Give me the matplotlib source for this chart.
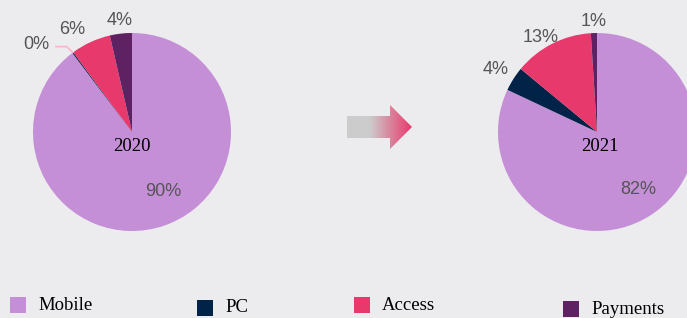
import matplotlib.pyplot as plt
import numpy as np
from matplotlib.patches import Polygon
from matplotlib.colors import LinearSegmentedColormap

categories = ['Mobile', 'PC', 'Access', 'Payments']
years = ['2020', '2021']
shares_2020 = [89.7, 0.2, 6.5, 3.6]
shares_2021 = [82, 4, 13, 1]

colors = ['#C48FD6', '#002347', '#E8396C', '#5E2262']
bg = '#ECEBEE'

W, H = 687, 318
fig = plt.figure(figsize=(W / 100, H / 100), dpi=100, facecolor=bg)


def px_axes(cx, cy, size):
    # axes centred on pixel (cx, cy) measured from top-left
    return fig.add_axes([(cx - size / 2) / W, (H - cy - size / 2) / H, size / W, size / H])


def draw_pie(cx, cy, values, year, label_pos, year_dx=0.0):
    ax = px_axes(cx, cy, 240)
    ax.axis('off')
    wedges, _ = ax.pie(values, colors=colors, startangle=90, counterclock=False,
                       radius=0.99, wedgeprops=dict(linewidth=0))
    ax.set_xlim(-1.2, 1.2)
    ax.set_ylim(-1.2, 1.2)
    ax.set_aspect('equal')
    ax.text(year_dx, -0.145, year, ha='center', va='center', family='Liberation Serif',
            fontsize=13.5, color='black')
    for w, v, (dist, nudge) in zip(wedges, values, label_pos):
        ang = np.deg2rad((w.theta1 + w.theta2) / 2 + nudge)
        x, y = dist * np.cos(ang), dist * np.sin(ang) - 0.02
        ax.text(x, y, f'{v:.0f}%', ha='center', va='center', family='Liberation Sans',
                fontsize=13, color='#555555')
    return ax, wedges


ax1, w1 = draw_pie(132, 132, shares_2020, years[0],
                   [(0.65, 10), (1.31, 10), (1.2, 5), (1.14, 0)])
# leader line for the tiny PC slice
a = np.deg2rad((w1[1].theta1 + w1[1].theta2) / 2)
ex, ey = 0.99 * np.cos(a), 0.99 * np.sin(a)
ax1.plot([ex, ex - 0.06, -0.76], [ey, ey + 0.06, ey + 0.06], color='#F6B8CA', lw=1.2)

draw_pie(597, 132, shares_2021, years[1],
         [(0.69, 4), (1.2, 0), (1.12, 3), (1.13, 0)], year_dx=0.03)

# gradient arrow
ax_ar = fig.add_axes([0, 0, 1, 1])
ax_ar.axis('off')
ax_ar.patch.set_alpha(0)
verts = [(347, 116), (390, 116), (390, 105), (412, 127), (390, 149), (390, 138), (347, 138)]
poly = Polygon(verts, closed=True, facecolor='none', edgecolor='none')
ax_ar.add_patch(poly)
cmap = LinearSegmentedColormap.from_list('ar', [(0, '#CCCCCC'), (0.35, '#CCCCCC'), (1, '#E8396C')])
grad = np.linspace(0, 1, 256).reshape(1, -1)
im = ax_ar.imshow(grad, cmap=cmap, extent=(347, 412, 149, 105), aspect='auto')
im.set_clip_path(poly)
ax_ar.set_xlim(0, W)
ax_ar.set_ylim(H, 0)

# legend
legend_x = [10, 197, 354, 563]
legend_y = [297, 300, 297, 301]
for name, c, lx, ly in zip(categories, colors, legend_x, legend_y):
    ax_ar.add_patch(plt.Rectangle((lx, ly), 16, 16, facecolor=c, edgecolor='none'))
    ax_ar.text(lx + 28, ly + 8, name, ha='left', va='center', family='Liberation Serif',
               fontsize=13.5, color='black')

fig.savefig('out.png', dpi=100, facecolor=bg)
